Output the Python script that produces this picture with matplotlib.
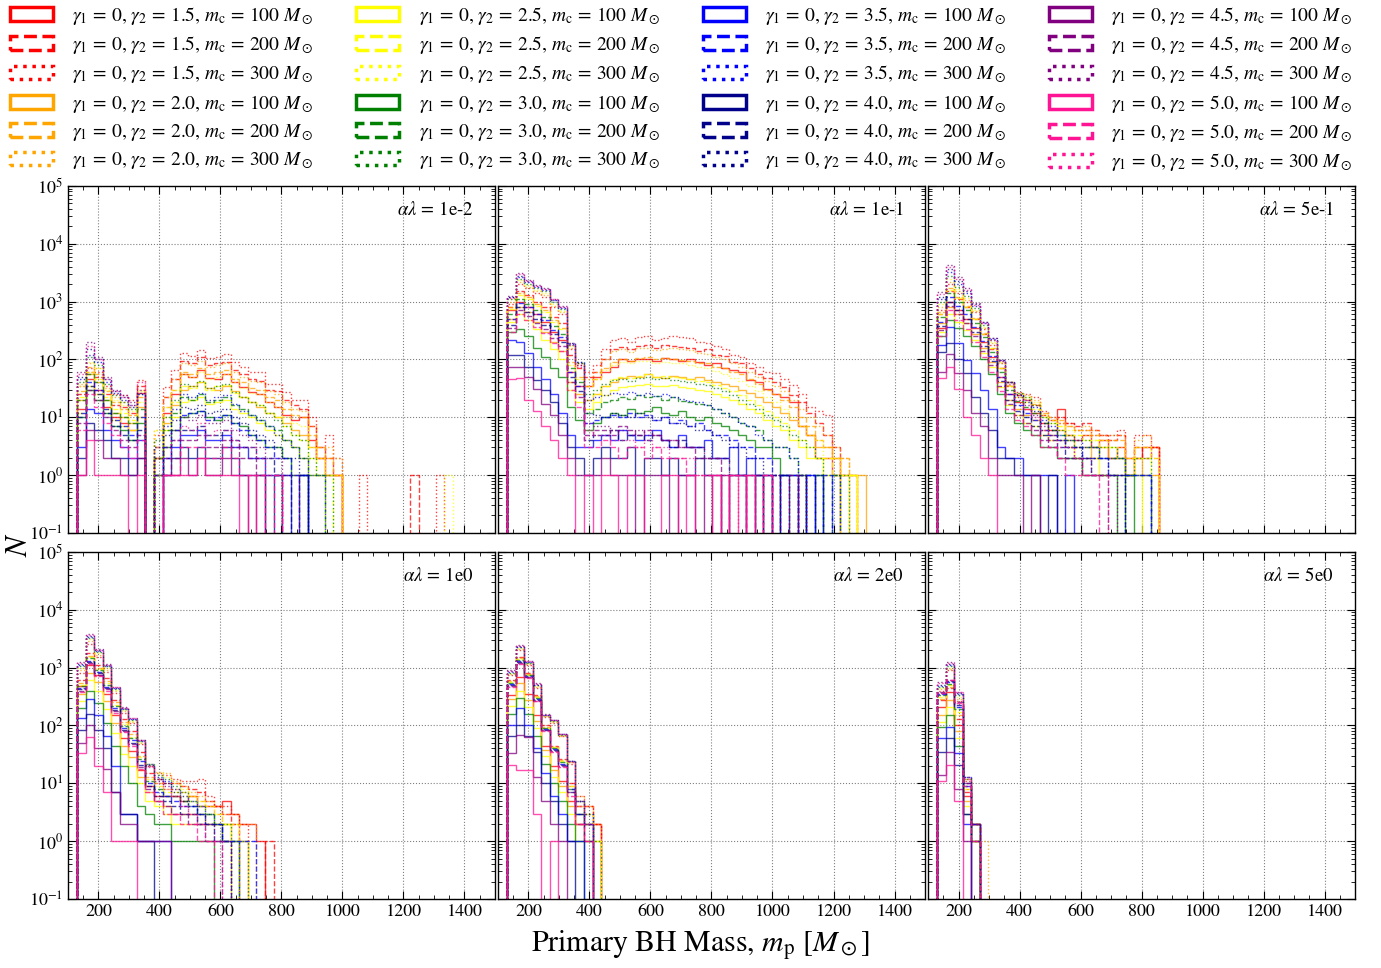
import numpy as np
import matplotlib.pyplot as plt
from matplotlib.patches import Patch
from matplotlib.ticker import MultipleLocator, LogLocator

plt.rcParams['font.family'] = 'STIXGeneral'
plt.rcParams['mathtext.fontset'] = 'stix'

# model grid: gamma_2 x m_c, gamma_1 fixed at 0
gamma2_vals = ['1.5', '2.0', '2.5', '3.0', '3.5', '4.0', '4.5', '5.0']
mc_vals = [100, 200, 300]
colors = ['red', 'orange', 'yellow', 'green', 'blue', 'darkblue', 'purple', 'deeppink']
styles = ['-', '--', ':']
alpha_lambda = ['1e-2', '1e-1', '5e-1', '1e0', '2e0', '5e0']

# common binning in primary mass [Msun]
bin_edges = 130 + 28 * np.arange(48)

# counts per bin, one row per model (gamma_2 major, m_c minor)
counts_1e_2 = [
    [14, 45, 30, 15, 10, 8, 6, 26, 0, 2, 12, 25, 55, 50, 65, 48, 45, 55, 40, 33, 27, 25, 18, 15, 11, 9, 10, 4, 2, 1, 1],
    [25, 60, 50, 25, 16, 15, 12, 35, 0, 3, 22, 45, 95, 85, 110, 80, 85, 90, 65, 55, 45, 42, 30, 28, 20, 16, 14, 7, 3, 2, 1, 0, 0, 0, 0, 0, 0, 0, 0, 1],
    [35, 70, 60, 35, 25, 24, 20, 44, 0, 5, 33, 65, 130, 115, 145, 105, 110, 125, 90, 75, 60, 60, 38, 38, 27, 20, 20, 10, 2, 5, 2, 0, 0, 1, 0, 0, 0, 0, 0, 0, 0, 0, 1],
    [20, 55, 40, 20, 12, 10, 8, 15, 0, 2, 8, 16, 30, 35, 40, 32, 30, 35, 28, 22, 18, 15, 12, 10, 8, 6, 5, 3, 2, 1, 1],
    [28, 75, 55, 28, 18, 14, 11, 22, 0, 3, 15, 30, 60, 55, 70, 55, 60, 65, 45, 40, 32, 30, 22, 20, 14, 11, 10, 5, 3, 2, 1],
    [38, 85, 70, 32, 22, 18, 15, 30, 0, 6, 22, 45, 85, 80, 95, 75, 80, 85, 60, 50, 42, 40, 28, 25, 18, 14, 13, 7, 3, 3, 2],
    [12, 35, 25, 14, 9, 7, 6, 10, 0, 1, 6, 10, 18, 20, 22, 17, 18, 20, 14, 12, 10, 8, 6, 5, 4, 3, 2, 1, 1],
    [22, 60, 45, 22, 14, 12, 9, 18, 0, 2, 10, 18, 35, 32, 40, 30, 34, 36, 26, 22, 18, 16, 12, 10, 7, 5, 4, 2, 1, 1],
    [35, 90, 70, 30, 20, 16, 13, 28, 0, 6, 15, 30, 55, 50, 60, 45, 50, 55, 40, 32, 26, 25, 18, 15, 10, 8, 7, 3, 2, 1, 1, 0, 0, 0, 0, 0, 0, 0, 0, 0, 0, 0, 0, 1],
    [10, 30, 20, 12, 7, 6, 4, 8, 0, 1, 3, 6, 10, 12, 13, 10, 9, 11, 8, 7, 5, 4, 3, 3, 2, 1, 1],
    [20, 55, 40, 20, 12, 10, 8, 14, 0, 2, 6, 12, 22, 20, 25, 18, 20, 22, 16, 14, 11, 9, 7, 6, 4, 3, 2, 1, 1],
    [40, 110, 80, 38, 24, 18, 14, 25, 0, 4, 10, 20, 38, 35, 42, 32, 35, 38, 27, 22, 18, 16, 12, 9, 7, 5, 4, 2, 1, 1],
    [3, 14, 12, 6, 4, 3, 2, 4, 0, 0, 2, 3, 5, 5, 6, 4, 4, 5, 3, 3, 2, 2, 1, 1, 1, 0, 1],
    [12, 40, 30, 14, 9, 7, 5, 10, 0, 1, 3, 6, 11, 12, 13, 9, 10, 11, 8, 6, 5, 4, 3, 2, 2, 1, 1],
    [45, 120, 90, 40, 26, 20, 15, 25, 0, 3, 7, 14, 25, 22, 26, 20, 22, 24, 17, 13, 11, 9, 7, 5, 4, 3, 2, 1, 1],
    [2, 8, 6, 4, 2, 2, 1, 2, 0, 0, 1, 2, 3, 2, 3, 2, 2, 3, 2, 1, 1, 1, 0, 1],
    [10, 35, 25, 12, 7, 5, 4, 6, 0, 1, 2, 4, 6, 6, 7, 5, 5, 6, 4, 3, 3, 2, 2, 1, 1, 0, 1],
    [50, 150, 100, 45, 28, 22, 16, 26, 0, 2, 5, 9, 15, 14, 16, 12, 13, 14, 10, 8, 6, 5, 4, 3, 2, 2, 1],
    [1, 6, 4, 2, 2, 1, 1, 2, 0, 0, 1, 1, 2, 1, 2, 1, 1, 2, 1, 1, 0, 1],
    [8, 30, 20, 10, 6, 4, 3, 5, 0, 0, 1, 2, 4, 4, 5, 3, 3, 4, 3, 2, 2, 1, 1, 1],
    [60, 200, 110, 50, 30, 24, 18, 30, 0, 2, 3, 6, 10, 9, 11, 8, 8, 9, 6, 5, 4, 3, 2, 2, 1, 1],
    [1, 4, 1, 1, 1, 1, 0, 1, 0, 0, 1, 1, 1, 1, 2, 1, 1, 1, 1, 0, 1],
    [6, 25, 15, 8, 5, 3, 2, 4, 0, 0, 1, 1, 3, 3, 3, 2, 2, 3, 2, 1, 1, 1, 0, 1],
    [55, 170, 100, 45, 28, 22, 16, 40, 0, 1, 2, 4, 7, 6, 8, 5, 6, 6, 4, 3, 3, 2, 1, 1],
]

counts_1e_1 = [
    [700, 1000, 800, 600, 450, 300, 220, 60, 35, 35, 50, 60, 75, 100, 95, 100, 100, 95, 105, 100, 95, 100, 90, 80, 85, 70, 65, 60, 44, 40, 31, 25, 22, 18, 7, 5, 2, 2, 1],
    [800, 1500, 1300, 1000, 800, 550, 420, 120, 70, 50, 60, 100, 150, 165, 150, 170, 180, 160, 175, 170, 165, 160, 140, 150, 120, 115, 90, 85, 70, 55, 48, 40, 33, 24, 18, 12, 8, 5, 3, 1, 1],
    [900, 2000, 1700, 1400, 1200, 800, 600, 150, 80, 60, 80, 150, 220, 230, 200, 240, 250, 220, 230, 250, 240, 230, 200, 190, 170, 150, 120, 110, 87, 75, 60, 57, 45, 36, 25, 15, 13, 11, 2, 1],
    [500, 800, 650, 450, 300, 200, 140, 40, 25, 20, 25, 35, 40, 48, 52, 50, 55, 50, 48, 52, 50, 45, 50, 44, 40, 38, 35, 30, 26, 22, 18, 15, 12, 9, 7, 5, 3, 3, 2, 1, 1, 1],
    [800, 1400, 1200, 900, 700, 480, 350, 90, 50, 35, 45, 70, 90, 100, 95, 105, 110, 100, 105, 100, 98, 95, 85, 88, 75, 70, 60, 55, 45, 38, 30, 25, 20, 15, 10, 7, 4, 3, 2, 2, 1],
    [1000, 2200, 1800, 1500, 1300, 850, 650, 160, 85, 45, 60, 100, 140, 150, 135, 155, 160, 145, 150, 155, 150, 145, 130, 125, 110, 100, 85, 75, 60, 50, 42, 35, 28, 20, 14, 10, 7, 5, 3, 2, 1],
    [450, 600, 480, 330, 220, 150, 100, 30, 18, 14, 18, 24, 30, 33, 35, 36, 38, 35, 34, 36, 33, 32, 30, 28, 25, 22, 20, 17, 14, 12, 9, 7, 6, 4, 3, 2, 2, 1, 1, 0, 1],
    [750, 1300, 1100, 850, 650, 450, 330, 80, 45, 20, 25, 35, 45, 50, 48, 52, 55, 50, 52, 50, 48, 45, 42, 40, 36, 32, 28, 24, 20, 16, 13, 10, 8, 6, 4, 3, 2, 2, 1, 1, 1],
    [1100, 2400, 1900, 1600, 1400, 900, 680, 170, 85, 35, 45, 65, 80, 90, 85, 92, 95, 88, 90, 88, 85, 80, 75, 72, 62, 55, 48, 42, 35, 28, 22, 18, 14, 10, 7, 5, 4, 2, 2, 1, 1],
    [300, 330, 250, 160, 110, 70, 50, 15, 9, 6, 8, 10, 12, 11, 14, 12, 13, 15, 12, 11, 13, 10, 9, 10, 8, 7, 6, 5, 4, 3, 3, 2, 1, 1, 1, 0, 1],
    [600, 1100, 900, 700, 550, 380, 280, 70, 40, 12, 14, 18, 20, 22, 21, 24, 22, 23, 20, 22, 19, 18, 17, 16, 14, 12, 10, 8, 7, 6, 4, 3, 3, 2, 1, 1, 1, 0, 1],
    [1100, 2500, 2000, 1700, 1500, 1000, 750, 180, 90, 25, 30, 38, 44, 46, 42, 48, 50, 45, 47, 44, 42, 40, 38, 36, 32, 28, 24, 20, 17, 14, 11, 9, 7, 5, 4, 3, 2, 1, 1, 1],
    [215, 200, 130, 75, 45, 25, 12, 5, 3, 3, 4, 5, 4, 6, 5, 4, 5, 6, 4, 3, 5, 3, 3, 4, 2, 2, 3, 1, 2, 1, 1, 0, 1, 1, 0, 1],
    [500, 950, 800, 600, 480, 320, 240, 60, 35, 8, 9, 10, 11, 10, 12, 10, 11, 9, 10, 8, 9, 7, 8, 6, 5, 5, 4, 3, 3, 2, 2, 1, 1, 1, 0, 1, 0, 1],
    [1200, 2700, 2200, 1800, 1600, 1050, 780, 185, 90, 20, 22, 24, 26, 25, 27, 24, 26, 23, 25, 22, 21, 19, 18, 16, 14, 12, 10, 8, 7, 5, 4, 3, 3, 2, 1, 1, 1, 0, 1],
    [120, 120, 75, 44, 30, 18, 8, 3, 2, 1, 2, 3, 2, 2, 3, 1, 2, 2, 1, 2, 1, 1, 2, 1, 1, 0, 1, 1, 0, 1, 0, 0, 1],
    [400, 800, 650, 500, 400, 270, 200, 50, 28, 4, 5, 5, 6, 4, 5, 5, 4, 5, 4, 3, 4, 3, 3, 2, 2, 2, 1, 1, 1, 1, 0, 1, 0, 0, 1],
    [1200, 2800, 2250, 1850, 1650, 1080, 800, 190, 85, 12, 11, 10, 12, 11, 10, 12, 10, 9, 10, 8, 8, 7, 6, 6, 5, 4, 3, 3, 2, 2, 1, 1, 1, 0, 1, 0, 1],
    [75, 75, 50, 31, 17, 11, 5, 2, 1, 1, 1, 2, 1, 1, 1, 0, 1, 1, 1, 0, 1, 1, 0, 1, 0, 1, 0, 0, 1, 0, 1],
    [350, 700, 560, 430, 340, 230, 170, 40, 22, 5, 6, 6, 5, 7, 6, 5, 6, 5, 4, 4, 3, 3, 2, 2, 2, 1, 1, 1, 0, 1, 1, 0, 0, 1],
    [1250, 3100, 2350, 1900, 1700, 1100, 850, 190, 80, 8, 7, 7, 6, 6, 5, 6, 5, 5, 4, 4, 3, 3, 3, 2, 2, 2, 1, 1, 1, 1, 0, 1, 0, 0, 1],
    [45, 47, 20, 13, 7, 4, 2, 1, 0, 1, 0, 1, 1, 0, 1, 1, 0, 0, 1, 1, 0, 1, 0, 0, 1, 0, 1, 0, 1],
    [300, 600, 480, 370, 290, 190, 140, 30, 15, 3, 3, 4, 3, 2, 3, 3, 2, 3, 2, 2, 2, 1, 1, 1, 1, 0, 1, 1, 0, 0, 1],
    [1150, 3000, 2300, 1850, 1650, 1100, 820, 180, 75, 6, 5, 5, 4, 4, 4, 3, 4, 3, 3, 2, 2, 2, 1, 1, 1, 1, 0, 1, 0, 0, 1],
]

counts_5e_1 = [
    [350, 1000, 700, 500, 350, 200, 110, 50, 25, 18, 14, 12, 8, 6, 14, 5, 4, 5, 3, 4, 2, 3, 1, 2, 3, 3],
    [600, 1500, 1100, 800, 500, 280, 150, 70, 35, 24, 20, 16, 11, 9, 10, 8, 7, 8, 6, 5, 4, 5, 2, 3, 2, 3],
    [700, 2000, 1400, 1000, 650, 330, 180, 85, 40, 27, 25, 22, 13, 10, 8, 8, 6, 6, 5, 5, 5, 6, 2, 5, 5, 3],
    [420, 800, 600, 420, 280, 160, 90, 40, 20, 14, 11, 9, 6, 5, 6, 4, 3, 3, 2, 3, 2, 2, 1, 2, 1, 1],
    [650, 1700, 1200, 850, 520, 290, 160, 72, 36, 25, 21, 17, 12, 9, 9, 7, 6, 6, 5, 4, 4, 4, 2, 3, 3, 2],
    [800, 2200, 1500, 1050, 680, 350, 190, 88, 40, 26, 24, 20, 12, 10, 8, 7, 6, 7, 6, 5, 5, 5, 2, 4, 5, 3],
    [300, 600, 450, 320, 220, 130, 75, 33, 16, 11, 8, 7, 5, 4, 4, 3, 2, 2, 2, 1, 1, 1, 1, 1],
    [620, 1600, 1150, 820, 500, 280, 155, 70, 34, 22, 18, 14, 10, 8, 7, 5, 5, 4, 4, 3, 3, 2, 1, 2, 2],
    [900, 2500, 1650, 1150, 720, 370, 200, 90, 40, 25, 22, 18, 11, 9, 7, 6, 5, 5, 4, 4, 3, 3, 2, 3, 3, 2],
    [250, 480, 350, 250, 170, 100, 55, 25, 12, 8, 6, 5, 3, 3, 2, 2, 2, 1, 1, 1, 1, 0, 1],
    [550, 1400, 1000, 700, 430, 240, 135, 60, 30, 19, 15, 12, 8, 6, 5, 4, 3, 3, 3, 2, 2, 2, 1, 1, 1],
    [1000, 2800, 1800, 1250, 780, 400, 215, 95, 41, 26, 22, 16, 10, 8, 6, 5, 4, 4, 3, 3, 3, 2, 1, 2, 2],
    [180, 370, 190, 97, 57, 30, 14, 3, 2, 2, 1, 1, 1, 1, 0, 1],
    [450, 1200, 850, 600, 370, 210, 115, 50, 25, 16, 12, 9, 6, 5, 4, 3, 3, 2, 2, 2, 1, 1, 1, 1, 1],
    [1100, 3200, 2000, 1400, 850, 420, 225, 97, 40, 25, 20, 15, 9, 7, 5, 4, 4, 3, 3, 2, 2, 2, 1, 1, 1],
    [135, 190, 100, 57, 22, 12, 6, 2, 2, 1, 1, 1, 0, 1],
    [380, 1000, 700, 500, 300, 170, 95, 42, 20, 13, 10, 7, 5, 4, 3, 2, 2, 2, 1, 1, 1, 1],
    [1200, 3600, 2300, 1550, 900, 440, 230, 97, 41, 24, 18, 13, 8, 6, 4, 3, 3, 2, 2, 2, 1, 1],
    [60, 125, 57, 30, 12, 7, 2, 1, 1, 1, 0, 1],
    [320, 850, 600, 420, 250, 140, 80, 35, 17, 11, 8, 6, 4, 3, 2, 2, 2, 1, 1, 1],
    [1480, 4300, 2700, 1700, 930, 450, 230, 97, 40, 22, 16, 11, 7, 5, 4, 3, 2, 2, 1, 1, 1],
    [47, 75, 31, 10, 5, 2, 1],
    [250, 700, 480, 340, 200, 110, 60, 28, 14, 9, 7, 5, 3, 3, 2, 1, 1, 1, 1],
    [1350, 4000, 2500, 1600, 880, 430, 220, 92, 38, 20, 14, 10, 6, 4, 3, 3, 2, 1, 1, 1],
]

counts_1e0 = [
    [480, 1100, 750, 350, 150, 60, 36, 17, 9, 6, 6, 6, 5, 6, 4, 4, 4, 5, 3, 2, 2, 1],
    [600, 1800, 1100, 650, 280, 130, 80, 35, 15, 12, 10, 10, 9, 8, 7, 5, 4, 3, 2, 0, 0, 0, 1],
    [800, 2600, 1500, 850, 360, 165, 110, 48, 20, 15, 14, 12, 11, 11, 12, 6, 4, 4, 3, 2],
    [350, 800, 560, 260, 110, 45, 28, 13, 7, 5, 4, 3, 3, 3, 3, 2, 2, 2, 1, 1],
    [550, 1600, 1000, 580, 250, 115, 70, 30, 13, 10, 8, 8, 7, 6, 5, 4, 3, 2, 2],
    [900, 2900, 1650, 920, 390, 175, 115, 50, 21, 16, 15, 11, 9, 7, 6, 5, 4, 3, 3, 2, 2],
    [270, 600, 400, 190, 75, 32, 20, 10, 5, 4, 3, 2, 2, 2, 2, 2, 2, 1],
    [500, 1500, 950, 540, 230, 105, 64, 28, 12, 9, 7, 7, 6, 5, 4, 3, 2, 2, 1],
    [1000, 3100, 1800, 1000, 410, 185, 120, 52, 22, 15, 13, 10, 8, 6, 5, 4, 3, 2, 2, 1],
    [200, 400, 240, 110, 45, 20, 10, 4, 3, 2, 2, 1, 1, 1, 1, 1],
    [480, 1450, 900, 500, 215, 98, 60, 26, 11, 8, 6, 6, 5, 4, 3, 3, 2, 1, 1],
    [1050, 3300, 1900, 1050, 430, 190, 125, 53, 22, 14, 12, 9, 7, 5, 4, 3, 2, 2, 1, 1],
    [135, 290, 150, 65, 20, 3, 3, 1, 1, 1, 1],
    [450, 1300, 850, 470, 200, 90, 55, 24, 10, 7, 6, 5, 4, 4, 3, 2, 2, 1, 1, 1, 1],
    [1100, 3400, 1950, 1080, 440, 195, 128, 54, 22, 13, 11, 8, 6, 5, 4, 3, 2, 1, 1],
    [85, 155, 85, 40, 7, 3, 3, 1, 1],
    [420, 1250, 800, 440, 185, 85, 50, 21, 9, 6, 5, 4, 3, 3, 2, 2, 1, 1],
    [1150, 3500, 2000, 1100, 450, 200, 130, 55, 21, 12, 10, 7, 5, 4, 3, 2, 2, 1],
    [49, 100, 40, 18, 7, 2, 2, 1, 1, 1, 1],
    [400, 1200, 760, 420, 175, 80, 47, 19, 8, 5, 4, 3, 3, 2, 2, 1, 1],
    [1260, 3800, 2100, 1150, 470, 205, 135, 56, 20, 11, 9, 6, 4, 3, 2, 2, 1, 1],
    [33, 64, 20, 7, 1, 1, 1],
    [380, 1150, 720, 400, 165, 76, 44, 18, 7, 5, 3, 3, 2, 2, 1, 1],
    [1200, 3600, 2050, 1120, 460, 200, 132, 55, 19, 10, 8, 6, 4, 3, 2, 1, 1],
]

counts_2e0 = [
    [330, 700, 350, 150, 45, 20, 11, 5, 2, 2, 2],
    [600, 1500, 800, 330, 100, 45, 26, 10, 4, 4, 2],
    [750, 2000, 1100, 450, 140, 110, 65, 22, 6, 4, 2],
    [290, 550, 280, 120, 38, 17, 9, 4, 2, 1],
    [580, 1450, 780, 320, 95, 43, 25, 9, 4, 3, 1],
    [780, 2100, 1150, 470, 145, 115, 67, 23, 6, 4, 2],
    [220, 400, 210, 90, 30, 13, 7, 3, 1, 1],
    [560, 1400, 760, 310, 92, 42, 24, 9, 3, 2, 1],
    [800, 2200, 1180, 490, 148, 118, 68, 23, 5, 3, 1],
    [160, 300, 160, 65, 22, 10, 5, 2, 1],
    [540, 1350, 740, 300, 90, 40, 23, 8, 3, 2],
    [820, 2250, 1200, 500, 150, 120, 69, 24, 5, 3, 1],
    [100, 200, 100, 40, 15, 6, 3, 1, 1],
    [520, 1300, 720, 290, 87, 39, 22, 8, 3, 2],
    [850, 2300, 1230, 510, 152, 122, 70, 24, 5, 3],
    [65, 100, 65, 35, 10, 5, 2, 1],
    [500, 1250, 700, 280, 85, 38, 21, 7, 3, 1],
    [860, 2350, 1250, 520, 153, 123, 70, 24, 5, 2],
    [33, 68, 64, 13, 5, 2, 1],
    [480, 1200, 680, 270, 82, 36, 20, 7, 2, 1],
    [900, 2450, 1300, 540, 155, 125, 71, 24, 5, 2],
    [21, 17, 17, 3, 0, 1],
    [460, 1150, 660, 260, 80, 35, 19, 6, 2, 1],
    [880, 2400, 1280, 530, 154, 124, 70, 23, 4, 2],
]

counts_5e0 = [
    [210, 385, 100, 6, 2],
    [275, 440, 130, 7, 2],
    [400, 900, 270, 11, 2],
    [150, 275, 80, 5, 1],
    [290, 470, 150, 8, 2],
    [420, 950, 290, 12, 2, 1],
    [117, 210, 60, 4, 1],
    [310, 500, 170, 8, 1],
    [440, 1000, 310, 12, 1],
    [95, 150, 45, 3, 1],
    [330, 530, 190, 9, 2],
    [460, 1050, 330, 12, 2],
    [60, 95, 33, 2],
    [350, 560, 210, 9, 2],
    [480, 1100, 350, 13, 2],
    [35, 60, 21, 3],
    [370, 590, 230, 10, 1],
    [500, 1150, 360, 13, 1],
    [14, 35, 8, 1],
    [385, 615, 250, 10, 2],
    [575, 1260, 385, 13, 2],
    [11, 21, 5],
    [360, 600, 240, 9, 1],
    [550, 1200, 375, 12, 1],
]

all_counts = [counts_1e_2, counts_1e_1, counts_5e_1, counts_1e0, counts_2e0, counts_5e0]

fig, axes = plt.subplots(2, 3, figsize=(13.81, 9.68), dpi=100, sharex=True, sharey=True)
fig.subplots_adjust(left=0.0492, right=0.9812, top=0.808, bottom=0.0713, wspace=0.007, hspace=0.055)

for ax, al, counts in zip(axes.flat, alpha_lambda, all_counts):
    ax.set_yscale('log')
    for i, c in enumerate(counts):
        g, m = divmod(i, 3)
        n = len(c)
        ax.hist(bin_edges[:n], bins=bin_edges[:n + 1], weights=c, histtype='step',
                color=colors[g], linestyle=styles[m], lw=1.0, alpha=0.75)
    ax.set_xlim(100, 1500)
    ax.set_ylim(1e-1, 1e5)
    ax.xaxis.set_major_locator(MultipleLocator(200))
    ax.xaxis.set_minor_locator(MultipleLocator(50))
    ax.yaxis.set_major_locator(LogLocator(base=10, numticks=10))
    ax.yaxis.set_minor_locator(LogLocator(base=10, subs=np.arange(2, 10), numticks=10))
    ax.tick_params(which='both', direction='in', top=True, right=True, labelsize=13)
    ax.tick_params(which='major', length=6)
    ax.tick_params(which='minor', length=3)
    ax.grid(True, which='major', ls=':', color='gray', lw=0.8)
    for sp in ax.spines.values():
        sp.set_linewidth(1.0)
    ax.text(0.95, 0.93, r'$\alpha\lambda\,=\,$' + al, transform=ax.transAxes,
            ha='right', va='center', fontsize=13.5)

handles = []
labels = []
for g, g2 in enumerate(gamma2_vals):
    for m, mc in enumerate(mc_vals):
        handles.append(Patch(facecolor='none', edgecolor=colors[g], linestyle=styles[m], lw=2.5))
        labels.append(r'$\gamma_1\,=\,0$, $\gamma_2\,=\,' + g2 + r'$, $m_{\rm c}\,=\,' + str(mc) + r'\ M_\odot$')

fig.legend(handles, labels, loc='upper left', bbox_to_anchor=(0.0036, 1.0), ncol=4, frameon=False,
           fontsize=14, handlelength=2.2, handleheight=0.7, columnspacing=2.22,
           handletextpad=1.0, labelspacing=0.38, borderpad=0.0, borderaxespad=0.25)

fig.text(0.507, 0.024, r'Primary BH Mass, $m_{\rm p}$ [$M_\odot$]', ha='center', va='center', fontsize=21.5)
fig.text(0.0145, 0.437, r'$N$', rotation=90, ha='center', va='center', fontsize=22)

fig.savefig('out.png', dpi=100)
